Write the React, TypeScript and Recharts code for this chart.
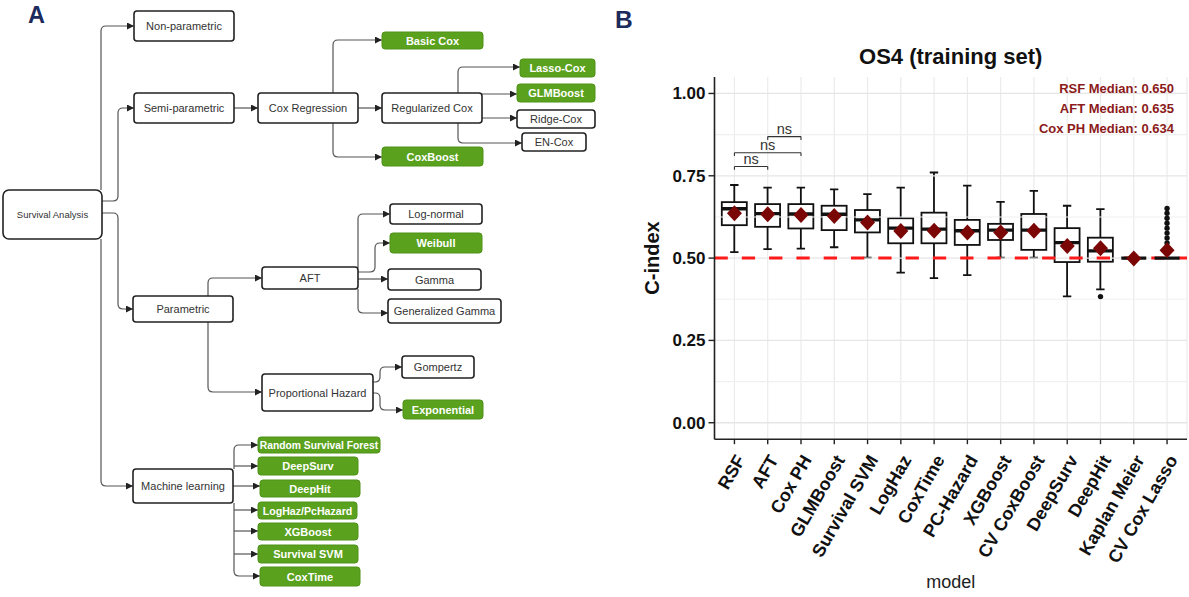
import React from 'react';
import { ComposedChart, Bar, Scatter, XAxis, YAxis, CartesianGrid, ReferenceLine } from 'recharts';

// ---------------- DATA (panel B) ----------------
const models = ['RSF', 'AFT', 'Cox PH', 'GLMBoost', 'Survival SVM', 'LogHaz', 'CoxTime', 'PC-Hazard', 'XGBoost', 'CV CoxBoost', 'DeepSurv', 'DeepHit', 'Kaplan Meier', 'CV Cox Lasso'];
const whiskerLow = [0.518, 0.527, 0.529, 0.533, 0.501, 0.456, 0.439, 0.448, 0.501, 0.501, 0.384, 0.405, 0.5, 0.5];
const q1 = [0.6, 0.595, 0.59, 0.585, 0.578, 0.545, 0.545, 0.54, 0.555, 0.525, 0.488, 0.489, 0.5, 0.5];
const medians = [0.65, 0.635, 0.634, 0.633, 0.616, 0.591, 0.588, 0.583, 0.585, 0.585, 0.547, 0.522, 0.5, 0.5];
const q3 = [0.67, 0.664, 0.664, 0.659, 0.646, 0.621, 0.638, 0.616, 0.604, 0.634, 0.591, 0.562, 0.5, 0.5];
const whiskerHigh = [0.722, 0.714, 0.714, 0.709, 0.694, 0.714, 0.76, 0.72, 0.671, 0.704, 0.659, 0.649, 0.5, 0.5];
const means = [0.636, 0.633, 0.631, 0.628, 0.608, 0.582, 0.583, 0.578, 0.578, 0.583, 0.537, 0.53, 0.499, 0.524];
const outliers: Record<string, number[]> = {
  'DeepHit': [0.383],
  'CV Cox Lasso': [0.651, 0.636, 0.621, 0.606, 0.591, 0.576, 0.561, 0.546, 0.531, 0.516],
};
const yTicks = [0, 0.25, 0.5, 0.75, 1];
const gridMajor = [0, 0.25, 0.5, 0.75, 1];
const gridMinor = [0.125, 0.375, 0.625, 0.875];
const comparisons = [
  { from: 'RSF', to: 'AFT', y: 0.778, label: 'ns' },
  { from: 'RSF', to: 'Cox PH', y: 0.82, label: 'ns' },
  { from: 'AFT', to: 'Cox PH', y: 0.869, label: 'ns' },
];
const medianNotes = ['RSF Median: 0.650', 'AFT Median: 0.635', 'Cox PH Median: 0.634'];
const chartTitle = 'OS4 (training set)';
const yTitle = 'C-index';
const xTitle = 'model';

const maxOut = Math.max(...Object.values(outliers).map((a) => a.length));
const rows = models.map((m, i) => {
  const row: any = {
    model: m,
    base: whiskerLow[i],
    lowW: q1[i] - whiskerLow[i],
    box: q3[i] - q1[i],
    highW: whiskerHigh[i] - q3[i],
    median: medians[i],
    mean: means[i],
  };
  const o = outliers[m] || [];
  for (let k = 0; k < maxOut; k++) row['o' + k] = k < o.length ? o[k] : null;
  return row;
});

const FONT = '"Liberation Sans", Arial, Helvetica, sans-serif';
const INK = '#111';

// ---------------- shapes ----------------
const Empty = () => <g />;
const LowWhisker = (p: any) => {
  const { x, y, width, height } = p;
  if (x == null || y == null || !height) return <g />;
  const cx = x + width / 2;
  return (
    <g>
      <line x1={cx} x2={cx} y1={y} y2={y + height} stroke={INK} strokeWidth={1.8} />
      <line x1={cx - 4.2} x2={cx + 4.2} y1={y + height} y2={y + height} stroke={INK} strokeWidth={1.8} />
    </g>
  );
};
const HighWhisker = (p: any) => {
  const { x, y, width, height } = p;
  if (x == null || y == null || !height) return <g />;
  const cx = x + width / 2;
  return (
    <g>
      <line x1={cx} x2={cx} y1={y} y2={y + height} stroke={INK} strokeWidth={1.8} />
      <line x1={cx - 4.2} x2={cx + 4.2} y1={y} y2={y} stroke={INK} strokeWidth={1.8} />
    </g>
  );
};
const BoxShape = (p: any) => {
  const { x, y, width, height } = p;
  if (x == null || y == null) return <g />;
  return <rect x={x} y={y} width={width} height={height || 0} fill="#fff" stroke={INK} strokeWidth={1.8} />;
};
const MedianShape = (p: any) => {
  if (p.cx == null || p.cy == null || Number.isNaN(p.cy)) return <g />;
  return <line x1={p.cx - 12.5} x2={p.cx + 12.5} y1={p.cy} y2={p.cy} stroke={INK} strokeWidth={3.4} />;
};
const MeanShape = (p: any) => {
  if (p.cx == null || p.cy == null || Number.isNaN(p.cy)) return <g />;
  const { cx, cy } = p;
  return <polygon points={`${cx},${cy - 8} ${cx + 7.5},${cy} ${cx},${cy + 8} ${cx - 7.5},${cy}`} fill="#7A0606" />;
};
const makeOutlierShape = (key: string) => (p: any) => {
  if (p.payload == null || p.payload[key] == null || p.cy == null || Number.isNaN(p.cy)) return <g />;
  return <circle cx={p.cx} cy={p.cy} r={2.7} fill={INK} />;
};

const XTick = (p: any) => {
  const { x, y, payload } = p;
  return (
    <g transform={`translate(${x},${y})`}>
      <text x={0} y={0} dy="0.72em" textAnchor="end" transform="rotate(-60)" fontFamily={FONT} fontWeight="bold" fontSize={18} fill={INK}>
        {payload.value}
      </text>
    </g>
  );
};

// ---------------- diagram (panel A) ----------------
type Node = { x: number; y: number; w: number; h: number; t: string; g?: boolean; fs?: number; rx?: number };
const nodes: Node[] = [
  { x: 3, y: 190, w: 99, h: 49, t: 'Survival Analysis', fs: 9.5, rx: 6 },
  { x: 134, y: 11, w: 100, h: 30, t: 'Non-parametric' },
  { x: 134, y: 93, w: 100, h: 30, t: 'Semi-parametric' },
  { x: 133, y: 296, w: 100, h: 26, t: 'Parametric' },
  { x: 133, y: 469, w: 100, h: 34, t: 'Machine learning' },
  { x: 258, y: 93, w: 100, h: 30, t: 'Cox Regression' },
  { x: 382, y: 93, w: 100, h: 30, t: 'Regularized Cox' },
  { x: 382, y: 32, w: 101, h: 17, t: 'Basic Cox', g: true },
  { x: 382, y: 147, w: 101, h: 19, t: 'CoxBoost', g: true },
  { x: 520, y: 59, w: 75, h: 18, t: 'Lasso-Cox', g: true },
  { x: 517, y: 84, w: 78, h: 18, t: 'GLMBoost', g: true },
  { x: 517, y: 110, w: 78, h: 18, t: 'Ridge-Cox' },
  { x: 522, y: 133, w: 64, h: 18, t: 'EN-Cox' },
  { x: 262, y: 267, w: 96, h: 22, t: 'AFT' },
  { x: 262, y: 374, w: 111, h: 37, t: 'Proportional Hazard' },
  { x: 390, y: 204, w: 92, h: 20, t: 'Log-normal' },
  { x: 390, y: 233, w: 92, h: 20, t: 'Weibull', g: true },
  { x: 388, y: 269, w: 93, h: 21, t: 'Gamma' },
  { x: 388, y: 299, w: 113, h: 24, t: 'Generalized Gamma' },
  { x: 402, y: 356, w: 72, h: 22, t: 'Gompertz' },
  { x: 403, y: 400, w: 80, h: 19, t: 'Exponential', g: true },
  { x: 258, y: 437, w: 122, h: 16, t: 'Random Survival Forest', g: true, fs: 10.3 },
  { x: 258, y: 457, w: 100, h: 18, t: 'DeepSurv', g: true },
  { x: 260, y: 480, w: 100, h: 17, t: 'DeepHit', g: true },
  { x: 258, y: 502, w: 99, h: 17, t: 'LogHaz/PcHazard', g: true, fs: 10.6 },
  { x: 258, y: 523, w: 100, h: 17, t: 'XGBoost', g: true },
  { x: 258, y: 545, w: 100, h: 18, t: 'Survival SVM', g: true },
  { x: 260, y: 567, w: 100, h: 19, t: 'CoxTime', g: true },
];
const edges: string[] = [
  'M101 190 V31 Q101 26 106 26 H134',
  'M102 201 H113 Q118 201 118 196 V113 Q118 108 123 108 H134',
  'M102 213 H113 Q118 213 118 218 V304 Q118 309 123 309 H133',
  'M101 239 V481 Q101 486 106 486 H133',
  'M234 108 H258',
  'M333 93 V45 Q333 40 338 40 H382',
  'M358 108 H382',
  'M333 123 V152 Q333 157 338 157 H382',
  'M458 93 V72 Q458 67 463 67 H520',
  'M482 94 H517',
  'M482 118 H517',
  'M458 123 V138 Q458 143 463 143 H522',
  'M208 296 V283 Q208 278 213 278 H262',
  'M208 322 V387 Q208 392 213 392 H262',
  'M358 268 V219 Q358 214 363 214 H390',
  'M358 272 H370 Q375 272 375 267 V248 Q375 243 380 243 H390',
  'M358 279 H388',
  'M358 289 V308 Q358 313 363 313 H388',
  'M373 382 H375 Q380 382 380 377 V372 Q380 367 385 367 H402',
  'M373 393 H375 Q380 393 380 398 V405 Q380 410 385 410 H403',
  'M234 469 V450 Q234 445 239 445 H258',
  'M234 466 H258',
  'M233 486 H260',
  'M234 503 V571 Q234 576 239 576 H260',
  'M234 510 H258',
  'M234 531 H258',
  'M234 554 H258',
];

const Diagram = () => (
  <g>
    <defs>
      <marker id="arr" viewBox="0 0 8 8" refX="8" refY="4" markerWidth="7" markerHeight="7" markerUnits="userSpaceOnUse" orient="auto">
        <path d="M0,0 L8,4 L0,8 z" fill="#222" />
      </marker>
    </defs>
    {edges.map((d, i) => (
      <path key={i} d={d} fill="none" stroke="#555" strokeWidth={1.2} markerEnd="url(#arr)" />
    ))}
    {nodes.map((n, i) => (
      <g key={i}>
        <rect
          x={n.x}
          y={n.y}
          width={n.w}
          height={n.h}
          rx={n.rx ?? 3}
          fill={n.g ? '#5AA11E' : '#fff'}
          stroke={n.g ? '#4E9218' : '#222'}
          strokeWidth={n.g ? 1 : 1.6}
        />
        <text
          x={n.x + n.w / 2}
          y={n.y + n.h / 2}
          dominantBaseline="central"
          textAnchor="middle"
          fontFamily={FONT}
          fontSize={n.fs ?? 11}
          fontWeight={n.g ? 'bold' : 'normal'}
          fill={n.g ? '#fff' : '#333'}
        >
          {n.t}
        </text>
      </g>
    ))}
  </g>
);

export default function App() {
  return (
    <div style={{ position: 'absolute', left: 0, top: 0, width: 1189, height: 597, background: '#fff', overflow: 'hidden' }}>
      <div style={{ position: 'absolute', left: 600, top: 0 }}>
        <ComposedChart
          width={589}
          height={597}
          data={rows}
          margin={{ top: 77, right: 2, bottom: 17.8, left: 50.5 }}
        >
          <CartesianGrid horizontal={false} vertical={true} stroke="#EBEBEB" strokeWidth={1.2} />
          {gridMinor.map((v) => (
            <ReferenceLine key={'mi' + v} y={v} stroke="#F0F0F0" strokeWidth={1.1} />
          ))}
          {gridMajor.map((v) => (
            <ReferenceLine key={'ma' + v} y={v} stroke="#E6E6E6" strokeWidth={1.3} />
          ))}
          <XAxis
            dataKey="model"
            type="category"
            interval={0}
            tick={<XTick />}
            tickSize={5}
            tickMargin={9}
            padding={{ left: 3.3, right: 3.3 }}
            height={140}
            axisLine={{ stroke: '#222', strokeWidth: 1.6 }}
            tickLine={{ stroke: '#222', strokeWidth: 1.4 }}
          />
          <YAxis
            type="number"
            domain={[-0.05, 1.05]}
            allowDataOverflow={true}
            ticks={yTicks}
            tickFormatter={(v: number) => v.toFixed(2)}
            width={64}
            tickSize={6}
            tickMargin={3}
            axisLine={{ stroke: '#222', strokeWidth: 1.6 }}
            tickLine={{ stroke: '#222', strokeWidth: 1.4 }}
            tick={{ fontFamily: FONT, fontWeight: 'bold', fontSize: 17, fill: INK }}
          />
          <Bar dataKey="base" stackId="b" barSize={25} shape={<Empty />} isAnimationActive={false} />
          <Bar dataKey="lowW" stackId="b" barSize={25} shape={<LowWhisker />} isAnimationActive={false} />
          <Bar dataKey="box" stackId="b" barSize={25} shape={<BoxShape />} isAnimationActive={false} />
          <Bar dataKey="highW" stackId="b" barSize={25} shape={<HighWhisker />} isAnimationActive={false} />
          <ReferenceLine y={0.5} stroke="#FF1A1A" strokeWidth={3} strokeDasharray="13.3 14" />
          <Scatter dataKey="median" shape={<MedianShape />} isAnimationActive={false} />
          {Array.from({ length: maxOut }, (_, k) => (
            <Scatter key={'o' + k} dataKey={'o' + k} shape={makeOutlierShape('o' + k)} isAnimationActive={false} />
          ))}
          <Scatter dataKey="mean" shape={<MeanShape />} isAnimationActive={false} />
          {comparisons.map((c, i) => (
            <ReferenceLine
              key={'c' + i}
              segment={[{ x: c.from, y: c.y }, { x: c.to, y: c.y }]}
              stroke="#333"
              strokeWidth={1.1}
              label={{ value: c.label, position: 'top', offset: 3, fill: '#333', fontSize: 14.5, fontFamily: FONT }}
            />
          ))}
          {comparisons.map((c, i) => (
            <ReferenceLine key={'cl' + i} segment={[{ x: c.from, y: c.y }, { x: c.from, y: c.y - 0.01 }]} stroke="#333" strokeWidth={1.1} />
          ))}
          {comparisons.map((c, i) => (
            <ReferenceLine key={'cr' + i} segment={[{ x: c.to, y: c.y }, { x: c.to, y: c.y - 0.01 }]} stroke="#333" strokeWidth={1.1} />
          ))}
        </ComposedChart>
      </div>
      <svg width={1189} height={597} style={{ position: 'absolute', left: 0, top: 0, pointerEvents: 'none' }}>
        <Diagram />
        <text x={28} y={23} fontFamily={FONT} fontWeight="bold" fontSize={23.5} fill="#1C2A5C">A</text>
        <text x={615} y={28} fontFamily={FONT} fontWeight="bold" fontSize={24.5} fill="#1C2A5C">B</text>
        <text x={950.7} y={63.5} textAnchor="middle" fontFamily={FONT} fontWeight="bold" fontSize={22} fill={INK}>{chartTitle}</text>
        {medianNotes.map((t, i) => (
          <text key={i} x={1174} y={93 + i * 19.8} textAnchor="end" fontFamily={FONT} fontWeight="bold" fontSize={13} fill="#8B1A1A">{t}</text>
        ))}
        <text x={659} y={258} textAnchor="middle" transform="rotate(-90 659 258)" fontFamily={FONT} fontWeight="bold" fontSize={20} fill={INK}>{yTitle}</text>
        <text x={950.7} y={588} textAnchor="middle" fontFamily={FONT} fontSize={18} fill="#222">{xTitle}</text>
      </svg>
    </div>
  );
}
